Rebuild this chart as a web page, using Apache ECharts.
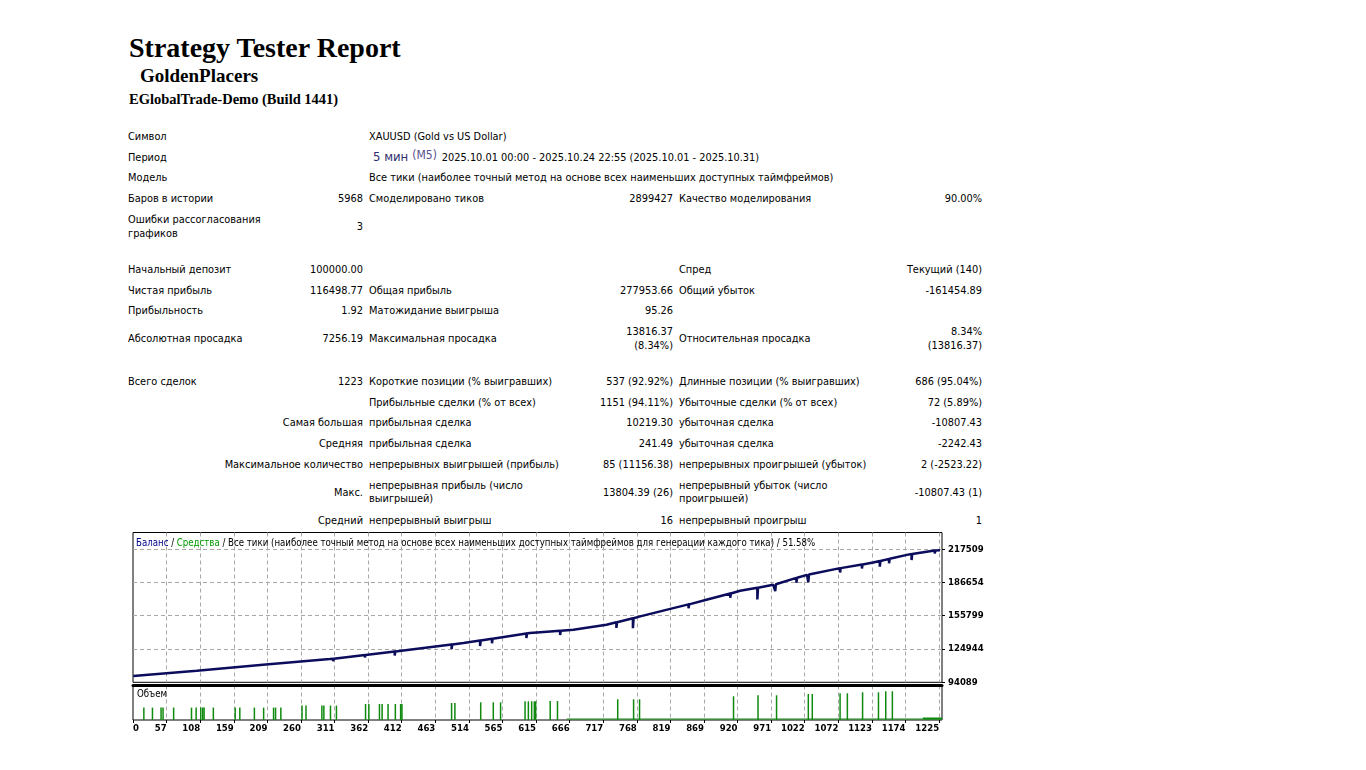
<!DOCTYPE html>
<html>
<head>
<meta charset="utf-8">
<script src="https://cdn.jsdelivr.net/npm/echarts@6/dist/echarts.min.js"></script>
<style>
  html, body { margin: 0; padding: 0; background: #fff; }
  body { width: 1366px; height: 770px; position: relative; overflow: hidden; }
  .h1 { position: absolute; left: 129px; top: 33px; font: bold 28px/30px "Liberation Serif", serif; color: #000; white-space: nowrap; }
  .h2 { position: absolute; left: 140px; top: 66px; font: bold 19px/20px "Liberation Serif", serif; color: #000; white-space: nowrap; }
  .h3 { position: absolute; left: 129px; top: 91px; font: bold 14.5px/17px "Liberation Serif", serif; color: #000; white-space: nowrap; }
  table.rep { position: absolute; left: 124px; top: 126.7px; border-collapse: collapse; table-layout: fixed; width: 860px;
    font: 10.9px/13.5px "DejaVu Sans Condensed", "DejaVu Sans", sans-serif; color: #000; }
  table.rep td { padding: 0 2px 0 4px; white-space: nowrap; vertical-align: middle; overflow: visible; }
  table.rep tr.s { height: 20.6px; }
  table.rep tr.d { height: 35.4px; }
  table.rep tr.g { height: 15px; }
  .r { text-align: right; }
  .p1 { font-size: 13px; color: #2e2e6e; margin-left: 4px; }
  .p2 { font-size: 12px; color: #57508c; position: relative; top: -2px; margin: 0 5px 0 4px; }
  #chart { position: absolute; left: 120px; top: 528px; width: 900px; height: 217px; }
</style>
</head>
<body>
<div class="h1">Strategy Tester Report</div>
<div class="h2">GoldenPlacers</div>
<div class="h3">EGlobalTrade-Demo (Build 1441)</div>

<table class="rep">
  <colgroup><col style="width:171px"><col style="width:70px"><col style="width:230px"><col style="width:80px"><col style="width:225px"><col style="width:84px"></colgroup>
  <tr class="s"><td>Символ</td><td></td><td colspan="4">XAUUSD (Gold vs US Dollar)</td></tr>
  <tr class="s"><td>Период</td><td></td><td colspan="4"><span class="p1">5 мин</span><span class="p2">(M5)</span>2025.10.01 00:00 - 2025.10.24 22:55 (2025.10.01 - 2025.10.31)</td></tr>
  <tr class="s"><td>Модель</td><td></td><td colspan="4">Все тики (наиболее точный метод на основе всех наименьших доступных таймфреймов)</td></tr>
  <tr class="s"><td>Баров в истории</td><td class="r">5968</td><td>Смоделировано тиков</td><td class="r">2899427</td><td>Качество моделирования</td><td class="r">90.00%</td></tr>
  <tr class="d"><td>Ошибки рассогласования<br>графиков</td><td class="r">3</td><td></td><td></td><td></td><td></td></tr>
  <tr class="g"><td colspan="6"></td></tr>
  <tr class="s"><td>Начальный депозит</td><td class="r">100000.00</td><td></td><td></td><td>Спред</td><td class="r">Текущий (140)</td></tr>
  <tr class="s"><td>Чистая прибыль</td><td class="r">116498.77</td><td>Общая прибыль</td><td class="r">277953.66</td><td>Общий убыток</td><td class="r">-161454.89</td></tr>
  <tr class="s"><td>Прибыльность</td><td class="r">1.92</td><td>Матожидание выигрыша</td><td class="r">95.26</td><td></td><td></td></tr>
  <tr class="d"><td>Абсолютная просадка</td><td class="r">7256.19</td><td>Максимальная просадка</td><td class="r">13816.37<br>(8.34%)</td><td>Относительная просадка</td><td class="r">8.34%<br>(13816.37)</td></tr>
  <tr class="g"><td colspan="6"></td></tr>
  <tr class="s"><td>Всего сделок</td><td class="r">1223</td><td>Короткие позиции (% выигравших)</td><td class="r">537 (92.92%)</td><td>Длинные позиции (% выигравших)</td><td class="r">686 (95.04%)</td></tr>
  <tr class="s"><td colspan="2"></td><td>Прибыльные сделки (% от всех)</td><td class="r">1151 (94.11%)</td><td>Убыточные сделки (% от всех)</td><td class="r">72 (5.89%)</td></tr>
  <tr class="s"><td colspan="2" class="r">Самая большая</td><td>прибыльная сделка</td><td class="r">10219.30</td><td>убыточная сделка</td><td class="r">-10807.43</td></tr>
  <tr class="s"><td colspan="2" class="r">Средняя</td><td>прибыльная сделка</td><td class="r">241.49</td><td>убыточная сделка</td><td class="r">-2242.43</td></tr>
  <tr class="s"><td colspan="2" class="r">Максимальное количество</td><td>непрерывных выигрышей (прибыль)</td><td class="r">85 (11156.38)</td><td>непрерывных проигрышей (убыток)</td><td class="r">2 (-2523.22)</td></tr>
  <tr class="d"><td colspan="2" class="r">Макс.</td><td>непрерывная прибыль (число<br>выигрышей)</td><td class="r">13804.39 (26)</td><td>непрерывный убыток (число<br>проигрышей)</td><td class="r">-10807.43 (1)</td></tr>
  <tr class="s"><td colspan="2" class="r">Средний</td><td>непрерывный выигрыш</td><td class="r">16</td><td>непрерывный проигрыш</td><td class="r">1</td></tr>
</table>

<div id="chart"></div>

<script>
// tick labels as printed by the tester
const xTickLabels = ['0', '57', '108', '159', '209', '260', '311', '362', '412', '463', '514', '565', '615',
  '666', '717', '768', '819', '869', '920', '971', '1022', '1072', '1123', '1174', '1225'];
const yTickLabels = ['94089', '124944', '155799', '186654', '217509'];

// balance by trade number (dips are single losing trades)
const balance = [
  [6, 100000], [102, 104827], [202, 110381], [303, 115658],
  [308, 115936], [308, 113622], [309, 115950],
  [356, 119397], [356, 117083], [357, 119420],
  [401, 122601], [401, 118898], [402, 122650], [404, 122786],
  [487, 129127], [487, 124961], [488, 129150], [505, 130469],
  [530, 132783], [530, 127692], [531, 132800],
  [548, 134412], [548, 130246], [549, 134430],
  [600, 139267], [600, 135101], [601, 139300], [605, 139726], [621, 140560],
  [651, 141948], [651, 137968], [652, 141970], [671, 142781], [721, 147409],
  [736, 149724], [736, 144448], [737, 149760],
  [761, 153473], [761, 144216], [762, 153500], [772, 155185], [822, 162869],
  [845, 166323], [845, 162620], [846, 166350], [872, 170552],
  [908, 176384], [908, 172404], [909, 176420], [923, 178883],
  [949, 181753], [949, 170946], [950, 181790], [973, 184437],
  [976, 184900], [976, 178698], [977, 184930],
  [1008, 190917], [1008, 186288], [1009, 190950], [1024, 193694],
  [1026, 193972], [1026, 186844], [1027, 194000],
  [1074, 199896], [1074, 195916], [1075, 199920],
  [1107, 203322], [1107, 199619], [1108, 203350], [1124, 205173],
  [1134, 206562], [1134, 201286], [1135, 206590],
  [1148, 208506], [1148, 204340], [1149, 208530], [1175, 212208],
  [1182, 212949], [1182, 207395], [1183, 212980],
  [1217, 216281], [1217, 213504], [1218, 216300], [1225, 216499]
];

// volume (lots) by trade number
const volume = [
  [22, 1.24], [35, 1.24], [48, 1.24], [51, 1.24], [67, 1.24], [94, 1.24], [101, 1.24], [108, 1.24],
  [111, 1.24], [113, 1.24], [127, 1.24], [160, 1.24], [167, 1.24], [189, 1.24], [203, 1.24],
  [218, 1.24], [221, 1.24], [229, 1.24],
  [261, 1.44], [267, 1.44], [291, 1.44], [294, 1.44], [304, 1.44], [313, 1.44],
  [357, 1.6], [362, 1.6], [378, 1.6], [382, 1.6], [391, 1.6], [402, 1.6], [410, 1.6], [412, 1.6],
  [487, 1.7], [492, 1.7], [531, 1.77], [550, 1.77], [561, 1.77], [598, 1.87], [603, 1.87],
  [608, 1.87], [612, 1.87], [614, 1.87],
  [636, 1.9], [647, 1.9], [738, 2.07], [762, 2.07], [771, 2.07], [913, 2.37], [950, 2.47],
  [978, 2.47], [1026, 2.6], [1032, 2.6], [1074, 2.67], [1085, 2.67], [1108, 2.77], [1132, 2.77],
  [1143, 2.87], [1153, 2.87]
];
const volumeFloor = [[661, 0.1], [1228, 0.1]];
const volumeFloorEnd = [[1199, 0.15], [1228, 0.15]];

const xStep = 50.75;      // trades between vertical grid lines
const xFirst = 5.6;       // trade number at the left edge
const xLast = 1228;       // trade number at the right edge
const yBase = 94089;
const yStep = 30855;
const yTop = 4.5;         // grid steps up to the top edge

const FONT = '"DejaVu Sans Condensed", "DejaVu Sans", sans-serif';
const dashed = { show: true, lineStyle: { color: '#a8a8a8', type: [4, 3], width: 1 }, showMinLine: false, showMaxLine: false };

function xLabel(v) {
  const k = Math.round(v / xStep);
  return Math.abs(v - k * xStep) < 0.01 ? (xTickLabels[k] || '') : '';
}
function yLabel(v) {
  const k = Math.round(v);
  return Math.abs(v - k) < 0.001 ? (yTickLabels[k] || '') : '';
}

const chart = echarts.init(document.getElementById('chart'), null, { renderer: 'canvas' });
chart.setOption({
  animation: false,
  backgroundColor: 'transparent',
  textStyle: { fontFamily: FONT },
  title: [{
    left: 16, top: 10, padding: 0,
    text: '{b|Баланс}{k| / }{g|Средства}{k| / Все тики (наиболее точный метод на основе всех наименьших доступных таймфреймов для генерации каждого тика) / 51.58%}',
    textStyle: {
      fontWeight: 'normal',
      rich: {
        b: { color: '#00008b', fontSize: 9.6, fontWeight: 'normal', fontFamily: FONT },
        g: { color: '#009a00', fontSize: 9.6, fontWeight: 'normal', fontFamily: FONT },
        k: { color: '#000', fontSize: 9.6, fontWeight: 'normal', fontFamily: FONT }
      }
    }
  }, {
    left: 17, top: 161, padding: 0,
    text: 'Объем',
    textStyle: { color: '#000', fontSize: 9.6, fontWeight: 'normal', fontFamily: FONT }
  }],
  grid: [
    { left: 13, top: 4.5, width: 809, height: 149.8, show: true, borderColor: '#000', borderWidth: 1, containLabel: false },
    { left: 13, top: 157.5, width: 809, height: 34.5, show: true, borderColor: '#000', borderWidth: 1, containLabel: false }
  ],
  xAxis: [
    { gridIndex: 0, type: 'value', min: xFirst, max: xLast, show: false },
    { gridIndex: 0, type: 'value', min: 0, max: xLast - xFirst, interval: xStep,
      axisLine: { show: false }, axisTick: { show: false }, axisLabel: { show: false }, splitLine: dashed },
    { gridIndex: 1, type: 'value', min: xFirst, max: xLast, position: 'top',
      axisLine: { show: true, onZero: false, lineStyle: { color: '#000', width: 3 } },
      axisTick: { show: false }, axisLabel: { show: false }, splitLine: { show: false } },
    { gridIndex: 1, type: 'value', min: 0, max: xLast - xFirst, interval: xStep, position: 'bottom',
      axisLine: { show: false },
      axisTick: { show: true, length: 3, lineStyle: { color: '#000' } },
      axisLabel: { show: true, formatter: xLabel, align: 'right', alignMinLabel: 'left', showMaxLabel: false,
        margin: 4, color: '#000', fontSize: 9.5, fontWeight: 'bold', fontFamily: FONT },
      splitLine: dashed }
  ],
  yAxis: [
    { gridIndex: 0, type: 'value', min: yBase, max: yBase + yTop * yStep, show: false },
    { gridIndex: 0, type: 'value', min: 0, max: yTop, interval: 1, position: 'right',
      axisLine: { show: false },
      axisTick: { show: true, length: 3, lineStyle: { color: '#000' } },
      axisLabel: { show: true, formatter: yLabel, margin: 6, color: '#000', fontSize: 9.5, fontWeight: 'bold', fontFamily: FONT,
        showMaxLabel: false },
      splitLine: dashed },
    { gridIndex: 1, type: 'value', min: 0, max: 3.45, show: false }
  ],
  series: [
    { type: 'line', xAxisIndex: 0, yAxisIndex: 0, data: balance, showSymbol: false, symbol: 'none',
      lineStyle: { color: '#0c0c5c', width: 2.5 }, z: 5 },
    { type: 'bar', xAxisIndex: 2, yAxisIndex: 2, data: volume, barWidth: 1.5,
      itemStyle: { color: '#0f8a0f' } },
    { type: 'line', xAxisIndex: 2, yAxisIndex: 2, data: volumeFloor, showSymbol: false, symbol: 'none',
      lineStyle: { color: '#0f8a0f', width: 1.2 } },
    { type: 'line', xAxisIndex: 2, yAxisIndex: 2, data: volumeFloorEnd, showSymbol: false, symbol: 'none',
      lineStyle: { color: '#0f8a0f', width: 2 } }
  ]
});
</script>
</body>
</html>
